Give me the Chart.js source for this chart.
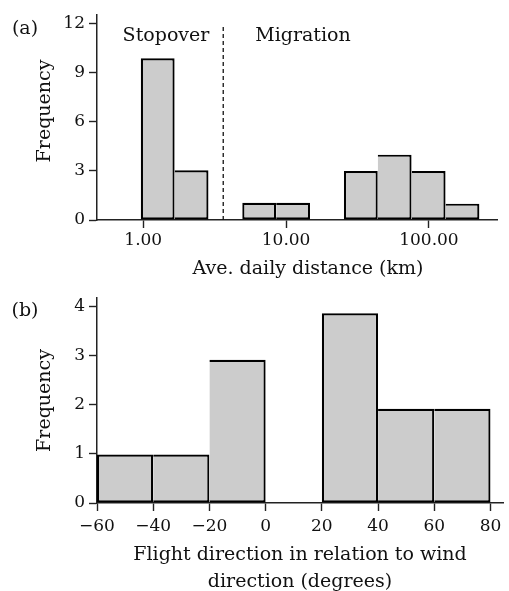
<!DOCTYPE html>
<html><head><meta charset="utf-8">
<script src="https://cdn.jsdelivr.net/npm/chart.js@4.4.0/dist/chart.umd.min.js"></script>
<style>
html,body{margin:0;padding:0;background:#fff;overflow:hidden;width:509px;height:591px;}
#ca{position:absolute;left:0;top:0;}
#cb{position:absolute;left:0;top:275px;}
</style></head><body>
<canvas id="ca" width="509" height="285"></canvas>
<canvas id="cb" width="509" height="325"></canvas>
<script>
// ---------- Panel (a): average daily distance (log bins, km) ----------
const binLowA  = [0.96, 1.66, 4.93, 8.52, 25.4, 43.8, 75.6, 131];
const binHighA = [1.66, 2.86, 8.52, 14.7, 43.8, 75.6, 131, 225];
const freqA    = [9.9, 3.05, 1.05, 1.05, 3.0, 4.0, 3.0, 1.0];
const xTicksA  = [1, 10, 100];
const yTicksA  = [0, 3, 6, 9, 12];
const dividerA = 3.63;          // km, stopover / migration boundary
const dividerTopA = 11.88;
const groupLabelsA = ['Stopover', 'Migration'];
const xTitleA = 'Ave. daily distance (km)';
const yTitle = 'Frequency';

// ---------- Panel (b): flight direction vs wind direction ----------
const binLowB  = [-60, -40, -20, 20, 40, 60];
const binHighB = [-40, -20, 0, 40, 60, 80];
const freqB    = [0.99, 0.99, 2.92, 3.87, 1.92, 1.92];
const xTicksB  = [-60, -40, -20, 0, 20, 40, 60, 80];
const yTicksB  = [0, 1, 2, 3, 4];
const xTitleB  = ['Flight direction in relation to wind', 'direction (degrees)'];
const panelLabels = ['(a)', '(b)'];

const FONT = '"DejaVu Serif", serif';
const INK = '#111';
const AX = '#222';
const BW = 2.2;

function axisStyle() {
  return {
    border: {display: true, color: AX, width: 1.5},
    grid: {display: true, drawOnChartArea: false, drawTicks: true, tickLength: 8,
           tickColor: AX, tickWidth: 1.4, offset: false}
  };
}
function tickFont() { return {family: FONT, size: 17}; }
function fmtSigned(v) { return v < 0 ? '\u2212' + Math.abs(v) : String(v); }

// shared edges between touching bins are drawn once (by the left bar)
function barStyle(lows, highs) {
  return {
    backgroundColor: '#cccccc', borderColor: '#000',
    borderWidth: ctx => {
      const i = ctx.dataIndex;
      const touchesLeft = i > 0 && highs[i - 1] === lows[i];
      return {top: BW, bottom: BW, right: BW, left: touchesLeft ? 0 : BW};
    },
    borderSkipped: false, barPercentage: 1, categoryPercentage: 1, inflateAmount: 0
  };
}

const textPluginA = {
  id: 'textA',
  afterDraw(chart) {
    const ctx = chart.ctx;
    ctx.save();
    ctx.fillStyle = INK;
    ctx.font = '19px ' + FONT;
    ctx.textAlign = 'center';
    ctx.textBaseline = 'alphabetic';
    ctx.fillText(groupLabelsA[0], 166, 41);
    ctx.fillText(groupLabelsA[1], 303, 41);
    ctx.textBaseline = 'middle';
    ctx.fillText(panelLabels[0], 25, 29);
    ctx.fillText(xTitleA, 308, 269);
    ctx.translate(45.5, 111);
    ctx.rotate(-Math.PI / 2);
    ctx.fillText(yTitle, 0, 0);
    ctx.restore();
  }
};
const textPluginB = {
  id: 'textB',
  afterDraw(chart) {
    const ctx = chart.ctx;
    ctx.save();
    ctx.fillStyle = INK;
    ctx.font = '19px ' + FONT;
    ctx.textAlign = 'center';
    ctx.textBaseline = 'middle';
    ctx.fillText(panelLabels[1], 25, 36);
    ctx.restore();
  }
};

new Chart(document.getElementById('ca'), {
  type: 'bar',
  data: {
    datasets: [
      Object.assign({
        type: 'bar', order: 2,
        data: binLowA.map((lo, i) => ({x: Math.sqrt(lo * binHighA[i]), y: freqA[i]}))
      }, barStyle(binLowA, binHighA)),
      {
        type: 'line', order: 1,
        data: [{x: dividerA, y: 0}, {x: dividerA, y: dividerTopA}],
        borderColor: INK, borderWidth: 1.3, borderDash: [4, 3],
        pointRadius: 0, fill: false
      }
    ]
  },
  options: {
    responsive: false, animation: false,
    layout: {padding: {left: 0, right: 12, top: 15, bottom: 0}},
    plugins: {legend: {display: false}, tooltip: {enabled: false}},
    scales: {
      x: Object.assign({
        type: 'logarithmic', min: 0.4745, max: 299.5, offset: false,
        ticks: {font: tickFont(), color: INK, padding: 2, autoSkip: false, maxRotation: 0,
                callback: v => Number(v).toFixed(2)},
        afterBuildTicks: s => { s.ticks = xTicksA.map(v => ({value: v})); },
        afterFit: s => { s.height = 65; }
      }, axisStyle()),
      y: Object.assign({
        type: 'linear', min: 0, max: 12.55,
        ticks: {font: tickFont(), color: INK, padding: 4},
        afterBuildTicks: s => { s.ticks = yTicksA.map(v => ({value: v})); },
        afterFit: s => { s.width = 97; }
      }, axisStyle())
    }
  },
  plugins: [textPluginA]
});

new Chart(document.getElementById('cb'), {
  type: 'bar',
  data: {
    datasets: [
      Object.assign({
        type: 'bar',
        data: binLowB.map((lo, i) => ({x: (lo + binHighB[i]) / 2, y: freqB[i]}))
      }, barStyle(binLowB, binHighB))
    ]
  },
  options: {
    responsive: false, animation: false,
    layout: {padding: {left: 0, right: 6, top: 23, bottom: 0}},
    plugins: {legend: {display: false}, tooltip: {enabled: false}},
    scales: {
      x: Object.assign({
        type: 'linear', min: -60, max: 84.45, offset: false,
        ticks: {font: tickFont(), color: INK, padding: 5, autoSkip: false, maxRotation: 0,
                callback: v => fmtSigned(v)},
        afterBuildTicks: s => { s.ticks = xTicksB.map(v => ({value: v})); },
        afterFit: s => { s.height = 97; },
        title: {display: true, text: xTitleB, color: INK,
                font: {family: FONT, size: 19, lineHeight: 1.4}, padding: {top: 0, bottom: 5}}
      }, axisStyle()),
      y: Object.assign({
        type: 'linear', min: 0, max: 4.18,
        ticks: {font: tickFont(), color: INK, padding: 4},
        afterBuildTicks: s => { s.ticks = yTicksB.map(v => ({value: v})); },
        afterFit: s => { s.width = 97; },
        title: {display: true, text: yTitle, color: INK,
                font: {family: FONT, size: 19}, padding: {top: 34, bottom: 0}}
      }, axisStyle())
    }
  },
  plugins: [textPluginB]
});
</script></body></html>
